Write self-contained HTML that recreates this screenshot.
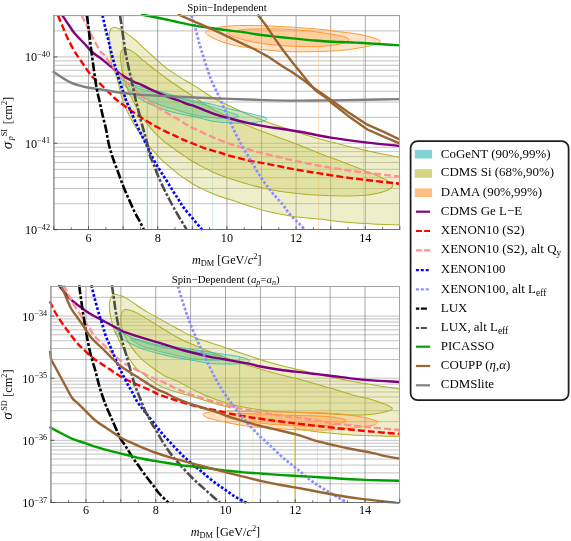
<!DOCTYPE html>
<html><head><meta charset="utf-8"><title>DM limits</title>
<style>html,body{margin:0;padding:0;background:#fff;}body{width:571px;height:541px;overflow:hidden;position:relative;font-family:"Liberation Serif",serif;}</style>
</head><body>
<div style="position:absolute;left:0;top:0;width:571px;height:541px;will-change:transform">
<svg width="571" height="541" viewBox="0 0 571 541" style="position:absolute;left:0;top:0;opacity:0.999">
<defs>
<clipPath id="ct"><rect x="51.9" y="14.1" width="348.2" height="216.6"/></clipPath>
<clipPath id="cb"><rect x="48.9" y="285.1" width="351.2" height="218.6"/></clipPath>
<clipPath id="ctf"><rect x="53.5" y="15.5" width="346.0" height="214.0"/></clipPath>
<clipPath id="cbf"><rect x="50.5" y="286.5" width="349.0" height="216.0"/></clipPath>
</defs>
<g stroke="#737373" stroke-width="0.44" fill="none"><path d="M88.50,15.5 V229.5" stroke-width="0.62"/><path d="M123.10,15.5 V229.5" stroke-width="0.62"/><path d="M157.70,15.5 V229.5" stroke-width="0.62"/><path d="M192.30,15.5 V229.5" stroke-width="0.62"/><path d="M226.90,15.5 V229.5" stroke-width="0.62"/><path d="M261.50,15.5 V229.5" stroke-width="0.62"/><path d="M296.10,15.5 V229.5" stroke-width="0.62"/><path d="M330.70,15.5 V229.5" stroke-width="0.62"/><path d="M365.30,15.5 V229.5" stroke-width="0.62"/><path d="M53.5,203.69 H399.5"/><path d="M53.5,188.48 H399.5"/><path d="M53.5,177.68 H399.5"/><path d="M53.5,169.31 H399.5"/><path d="M53.5,162.47 H399.5"/><path d="M53.5,156.68 H399.5"/><path d="M53.5,151.67 H399.5"/><path d="M53.5,147.25 H399.5"/><path d="M53.5,143.30 H399.5"/><path d="M53.5,117.29 H399.5"/><path d="M53.5,102.08 H399.5"/><path d="M53.5,91.28 H399.5"/><path d="M53.5,82.91 H399.5"/><path d="M53.5,76.07 H399.5"/><path d="M53.5,70.28 H399.5"/><path d="M53.5,65.27 H399.5"/><path d="M53.5,60.85 H399.5"/><path d="M53.5,56.90 H399.5"/><path d="M53.5,30.89 H399.5"/><path d="M53.5,15.68 H399.5"/></g>
<g clip-path="url(#ctf)">
<path d="M147.3,101.0 V229.5" stroke="#78d2d2" stroke-width="1.0" stroke-opacity="1" fill="none"/>
<path d="M212.5,122.0 V229.5" stroke="#78d2d2" stroke-width="0.6" stroke-opacity="0.6" fill="none"/>
<path d="M151.7,150.0 V229.5" stroke="#dcdc96" stroke-width="0.8" stroke-opacity="0.6" fill="none"/>
<path d="M189.3,180.0 V229.5" stroke="#dcdc96" stroke-width="0.8" stroke-opacity="0.6" fill="none"/>
<path d="M318.6,47.0 V229.5" stroke="#ffb878" stroke-width="0.8" stroke-opacity="0.6" fill="none"/>
<path d="M363.6,47.0 V229.5" stroke="#ffb878" stroke-width="0.8" stroke-opacity="0.7" fill="none"/>
<path d="M114.8,27.3 C116.1,27.5 118.3,28.5 120.0,29.3 C121.7,30.1 123.2,31.2 125.0,32.4 C126.8,33.6 129.0,35.1 131.1,36.6 C133.2,38.1 135.2,39.8 137.3,41.6 C139.4,43.5 141.4,45.8 143.4,47.7 C145.4,49.6 147.2,51.1 149.5,53.2 C151.8,55.4 154.8,58.2 157.5,60.6 C160.2,63.0 162.8,65.2 165.5,67.3 C168.2,69.4 171.2,71.5 174.0,73.4 C176.8,75.3 179.7,77.2 182.6,78.9 C185.5,80.6 188.7,82.3 191.2,83.8 C193.7,85.2 193.9,85.3 197.5,87.6 C201.1,89.9 207.1,94.4 212.5,97.5 C217.9,100.6 224.2,103.5 230.0,106.3 C235.8,109.1 241.7,111.7 247.5,114.2 C253.3,116.7 259.1,119.0 265.0,121.2 C270.9,123.4 277.6,125.6 282.6,127.3 C287.6,129.0 288.8,129.5 295.0,131.5 C301.2,133.5 310.6,136.6 319.6,139.1 C328.6,141.6 339.1,144.1 349.0,146.5 C358.9,148.9 370.3,151.5 378.7,153.3 C387.1,155.1 392.7,156.1 399.6,157.4 C406.5,158.7 413.3,155.8 420.0,161.2 C426.7,166.6 440.0,179.3 440.0,190.0 C440.0,200.7 426.7,219.5 420.0,225.3 C413.3,231.1 406.5,225.1 399.6,224.9 C392.7,224.7 387.1,224.7 378.7,224.3 C370.3,223.9 358.9,223.5 349.0,222.6 C339.1,221.7 328.6,220.1 319.6,219.1 C310.6,218.1 301.2,217.6 295.0,216.8 C288.8,216.0 287.6,215.5 282.6,214.5 C277.6,213.5 270.9,212.2 265.0,210.7 C259.1,209.2 253.3,207.3 247.5,205.5 C241.7,203.7 234.6,201.1 230.0,199.6 C225.4,198.1 223.5,197.7 220.0,196.4 C216.5,195.2 211.9,193.4 208.8,192.1 C205.7,190.8 203.9,189.6 201.5,188.4 C199.1,187.2 196.5,186.1 194.1,184.7 C191.7,183.3 189.2,181.4 186.8,179.8 C184.4,178.2 181.9,176.7 179.4,174.9 C176.9,173.1 174.6,170.8 172.1,168.8 C169.6,166.8 167.1,164.9 164.7,162.7 C162.2,160.4 159.8,157.8 157.4,155.3 C155.0,152.8 152.5,150.1 150.5,147.8 C148.5,145.5 147.2,143.9 145.6,141.7 C143.9,139.4 142.2,136.8 140.6,134.3 C138.9,131.9 137.3,129.7 135.7,127.0 C134.1,124.3 132.4,121.5 130.8,118.4 C129.2,115.3 127.3,111.7 125.9,108.6 C124.5,105.5 123.5,103.1 122.4,99.8 C121.4,96.5 120.5,92.3 119.6,88.6 C118.7,84.9 117.7,80.2 116.8,77.4 C115.9,74.6 115.2,73.1 114.4,71.5 C113.7,69.9 112.9,69.7 112.3,67.6 C111.7,65.5 111.2,62.1 110.8,59.0 C110.4,55.9 110.1,52.3 109.8,49.2 C109.5,46.1 109.3,43.1 109.2,40.6 C109.1,38.1 109.0,36.3 109.2,34.5 C109.4,32.7 109.9,30.9 110.4,29.8 C110.9,28.7 111.5,28.3 112.2,27.9 C112.9,27.5 113.5,27.1 114.8,27.3Z" fill="#c8c850" fill-opacity="0.3" stroke="#b0b02a" stroke-width="1.05"/>
<path d="M125.0,48.9 C126.0,48.8 127.5,49.1 128.7,49.5 C129.9,49.9 131.0,50.5 132.4,51.4 C133.8,52.3 135.5,53.5 137.3,55.0 C139.1,56.5 141.4,58.9 143.4,60.6 C145.4,62.4 147.2,63.7 149.5,65.5 C151.8,67.3 154.8,69.6 157.5,71.6 C160.2,73.6 162.8,75.7 165.5,77.7 C168.2,79.7 170.3,81.3 174.0,83.8 C177.7,86.3 183.3,90.0 187.6,92.8 C191.9,95.6 195.8,98.1 200.0,100.8 C204.2,103.5 207.5,106.1 212.5,108.9 C217.5,111.7 224.2,114.9 230.0,117.7 C235.8,120.5 241.7,123.0 247.5,125.5 C253.3,128.0 259.1,130.3 265.0,132.5 C270.9,134.7 277.6,137.1 282.6,138.9 C287.6,140.8 288.8,141.2 295.0,143.6 C301.2,146.0 310.6,149.9 319.6,153.4 C328.6,156.9 340.1,161.0 349.0,164.4 C357.9,167.8 366.4,171.1 372.8,173.8 C379.2,176.5 384.1,178.9 387.5,180.8 C390.9,182.7 393.0,183.5 393.0,185.1 C393.0,186.7 390.9,188.7 387.5,190.2 C384.1,191.7 379.2,193.2 372.8,194.2 C366.4,195.2 357.9,195.8 349.0,196.0 C340.1,196.2 328.6,195.8 319.6,195.3 C310.6,194.8 301.2,193.8 295.0,193.2 C288.8,192.6 287.6,192.6 282.6,191.8 C277.6,191.0 270.9,189.8 265.0,188.5 C259.1,187.2 253.3,185.8 247.5,184.1 C241.7,182.4 234.6,180.1 230.0,178.6 C225.4,177.1 222.7,175.9 220.0,174.9 C217.3,173.9 216.0,173.5 213.7,172.5 C211.4,171.5 208.8,170.0 206.4,168.8 C204.0,167.6 201.4,166.4 199.0,165.1 C196.6,163.8 194.1,162.3 191.7,160.8 C189.2,159.3 186.8,157.5 184.3,155.9 C181.9,154.3 179.4,152.7 177.0,151.0 C174.6,149.3 171.6,146.9 169.6,145.5 C167.6,144.1 167.0,143.8 165.2,142.3 C163.4,140.9 161.1,138.8 159.0,136.8 C156.9,134.9 154.9,132.8 152.9,130.6 C150.9,128.3 148.9,125.9 146.8,123.3 C144.8,120.7 142.3,117.3 140.6,114.7 C138.9,112.1 137.7,109.9 136.4,107.4 C135.1,105.0 134.1,102.9 132.7,100.0 C131.3,97.1 129.4,93.3 128.0,90.0 C126.6,86.7 125.4,83.0 124.5,80.0 C123.6,77.0 123.0,74.6 122.4,71.8 C121.8,69.0 121.3,66.0 121.0,63.4 C120.7,60.8 120.3,57.9 120.3,56.0 C120.3,54.1 120.4,53.3 120.8,52.3 C121.2,51.3 121.7,50.6 122.4,50.0 C123.1,49.4 124.0,49.0 125.0,48.9Z" fill="#c8c850" fill-opacity="0.32" stroke="#b0b02a" stroke-width="1.05"/>
<path d="M119.3,77.8 C120.0,77.9 122.3,80.1 124.6,81.2 C126.9,82.3 129.3,83.4 133.0,84.6 C136.7,85.8 142.3,87.4 146.7,88.6 C151.1,89.8 155.1,90.5 159.3,91.6 C163.5,92.7 167.3,93.7 172.0,95.0 C176.7,96.3 182.9,98.2 187.6,99.4 C192.3,100.6 195.8,101.2 200.0,102.0 C204.2,102.8 207.5,103.2 212.5,104.4 C217.5,105.6 224.4,107.6 230.0,109.0 C235.6,110.4 241.0,111.5 245.8,112.6 C250.6,113.7 255.5,114.8 259.0,115.8 C262.5,116.8 266.3,117.6 266.8,118.5 C267.3,119.4 265.2,120.6 262.0,121.3 C258.8,122.0 252.8,122.6 247.5,122.9 C242.2,123.2 235.8,123.2 230.0,122.9 C224.2,122.6 217.5,122.0 212.5,121.2 C207.5,120.4 203.9,118.9 200.0,118.0 C196.1,117.1 193.5,116.7 188.8,115.7 C184.1,114.7 176.9,113.3 172.0,112.0 C167.1,110.7 163.5,109.4 159.3,107.8 C155.1,106.2 150.4,104.4 146.7,102.6 C143.0,100.8 139.8,98.6 137.2,96.8 C134.6,95.0 133.0,93.4 130.9,91.5 C128.8,89.6 126.2,87.3 124.5,85.5 C122.8,83.7 121.4,81.8 120.5,80.5 C119.6,79.2 118.6,77.7 119.3,77.8Z" fill="#50c087" fill-opacity="0.225" stroke="#2cbcb4" stroke-width="0.85"/>
<path d="M133.6,86.6 C134.2,86.4 136.8,87.9 139.0,88.6 C141.2,89.3 143.3,89.9 146.7,90.7 C150.1,91.5 155.1,92.3 159.3,93.2 C163.5,94.1 167.3,95.0 172.0,96.2 C176.7,97.4 183.8,99.6 187.6,100.6 C191.4,101.6 192.3,101.8 195.0,102.4 C197.7,103.1 199.4,103.3 203.8,104.5 C208.2,105.7 216.4,108.3 221.3,109.8 C226.2,111.3 230.1,112.4 233.0,113.4 C235.9,114.4 238.6,115.2 238.8,115.9 C239.0,116.6 237.0,117.2 234.0,117.6 C231.0,118.0 224.6,118.2 221.0,118.2 C217.4,118.2 216.0,118.0 212.5,117.7 C209.0,117.4 204.2,116.9 200.0,116.2 C195.8,115.5 192.3,114.6 187.6,113.3 C182.9,112.0 176.7,110.0 172.0,108.6 C167.3,107.2 163.5,106.3 159.3,104.7 C155.1,103.1 150.0,100.7 146.7,98.9 C143.4,97.1 141.2,95.3 139.3,93.8 C137.4,92.2 136.1,90.8 135.2,89.6 C134.2,88.4 133.0,86.8 133.6,86.6Z" fill="#50c087" fill-opacity="0.225" stroke="#3cb496" stroke-width="0.7"/>
<path d="M205.8,32.1 C206.2,31.4 207.3,30.5 209.0,29.8 C210.7,29.1 212.9,28.5 215.8,27.9 C218.7,27.3 221.9,26.7 226.3,26.3 C230.7,25.9 236.4,25.6 242.0,25.5 C247.6,25.4 254.5,25.5 260.0,25.6 C265.5,25.7 269.6,26.0 275.0,26.3 C280.4,26.6 286.7,26.9 292.5,27.2 C298.3,27.5 304.1,27.9 310.0,28.4 C315.9,28.9 322.6,29.5 327.6,30.1 C332.6,30.7 335.4,31.3 340.0,31.9 C344.6,32.5 350.2,32.8 355.0,33.6 C359.8,34.4 365.2,35.6 369.0,36.6 C372.8,37.6 375.9,38.6 377.8,39.4 C379.7,40.2 380.7,40.7 380.4,41.5 C380.1,42.3 378.8,43.3 376.0,44.2 C373.2,45.1 368.8,46.2 363.8,47.1 C358.9,48.0 352.1,49.2 346.3,49.9 C340.5,50.6 334.9,50.9 328.8,51.2 C322.8,51.5 316.1,51.6 310.0,51.7 C303.9,51.8 298.3,51.9 292.5,51.7 C286.7,51.6 280.8,51.3 275.0,50.8 C269.2,50.3 263.0,49.6 257.5,48.9 C252.0,48.2 246.3,47.5 242.0,46.8 C237.7,46.1 235.0,45.6 231.5,44.7 C228.0,43.8 224.5,42.8 221.0,41.5 C217.5,40.2 212.9,38.0 210.5,36.8 C208.1,35.6 207.6,35.1 206.8,34.3 C206.0,33.5 205.4,32.9 205.8,32.1Z" fill="#ff9a3c" fill-opacity="0.28" stroke="#ff962d" stroke-width="0.95"/>
<path d="M228.2,33.1 C228.6,32.6 229.6,31.9 231.0,31.5 C232.4,31.1 234.1,30.9 236.8,30.5 C239.5,30.1 243.4,29.5 247.3,29.2 C251.2,28.9 255.4,28.9 260.0,28.9 C264.6,28.8 269.6,28.8 275.0,28.9 C280.4,29.0 286.7,29.2 292.5,29.6 C298.3,30.0 304.1,30.3 310.0,31.0 C315.9,31.7 322.4,32.8 327.6,33.6 C332.8,34.4 337.6,35.1 341.0,35.9 C344.4,36.7 346.7,37.7 348.0,38.4 C349.3,39.1 349.5,39.4 348.9,40.1 C348.3,40.9 347.0,42.1 344.5,42.9 C342.0,43.7 338.1,44.4 334.0,45.0 C329.9,45.6 324.0,46.1 320.0,46.4 C316.0,46.7 314.6,46.6 310.0,46.6 C305.4,46.6 298.3,46.6 292.5,46.3 C286.7,46.0 280.4,45.5 275.0,45.0 C269.6,44.5 263.8,43.7 260.0,43.2 C256.2,42.7 255.5,42.5 252.5,41.9 C249.5,41.3 245.5,40.4 242.0,39.4 C238.5,38.4 233.7,36.6 231.5,35.8 C229.3,34.9 229.4,34.8 228.8,34.3 C228.2,33.8 227.8,33.6 228.2,33.1Z" fill="#ff9a3c" fill-opacity="0.3" stroke="#ff962d" stroke-width="0.95"/>
</g>
<g clip-path="url(#ct)" stroke-linejoin="round">
<path d="M62.3,15.3 C63.5,17.1 67.1,22.7 69.3,25.8 C71.5,28.9 72.6,31.0 75.2,34.1 C77.8,37.2 82.2,41.2 85.0,44.2 C87.8,47.2 89.5,49.7 92.0,52.0 C94.5,54.3 97.5,55.9 100.0,57.8 C102.5,59.7 104.7,61.5 107.0,63.4 C109.3,65.3 111.7,67.1 114.0,69.0 C116.3,70.9 118.7,73.0 121.0,74.6 C123.3,76.2 125.7,77.5 128.0,78.8 C130.3,80.1 132.7,81.2 135.0,82.3 C137.3,83.3 139.7,84.0 142.0,85.1 C144.3,86.1 146.7,87.5 149.0,88.6 C151.3,89.7 153.7,90.7 156.0,91.7 C158.3,92.8 160.7,93.9 163.0,94.9 C165.3,95.9 167.2,96.5 170.0,97.5 C172.8,98.5 177.1,99.9 180.0,101.0 C182.9,102.1 185.1,103.3 187.6,104.2 C190.1,105.1 190.8,104.8 195.0,106.3 C199.2,107.8 206.7,111.3 212.5,113.3 C218.3,115.3 224.2,116.9 230.0,118.5 C235.8,120.1 241.7,121.6 247.5,122.9 C253.3,124.2 259.1,125.4 265.0,126.4 C270.9,127.4 276.8,128.1 282.6,129.0 C288.4,129.9 292.0,130.4 300.0,131.8 C308.0,133.2 319.9,135.8 330.8,137.6 C341.7,139.4 354.0,141.0 365.5,142.4 C377.0,143.8 393.9,145.3 399.6,145.9" fill="none" stroke="#800080" stroke-width="2.4"/>
<path d="M57.9,15.3 C58.6,17.1 60.7,22.0 62.3,25.8 C63.9,29.6 65.5,33.8 67.5,38.0 C69.5,42.2 71.9,46.8 74.5,51.2 C77.1,55.6 80.4,60.1 83.3,64.3 C86.2,68.5 89.2,73.3 92.0,76.5 C94.8,79.7 97.2,80.9 100.0,83.6 C102.8,86.2 106.0,89.7 108.8,92.4 C111.6,95.1 114.0,97.7 116.7,100.0 C119.4,102.3 121.7,103.9 124.7,106.1 C127.7,108.2 131.2,110.7 134.5,112.9 C137.8,115.2 141.0,117.5 144.3,119.6 C147.6,121.7 150.8,123.6 154.1,125.4 C157.4,127.2 160.6,129.1 163.9,130.7 C167.2,132.3 170.7,133.8 173.7,135.2 C176.7,136.6 178.7,137.8 181.9,139.2 C185.1,140.6 189.0,142.0 192.9,143.5 C196.8,145.0 200.9,146.9 205.2,148.4 C209.5,149.9 214.6,151.1 218.7,152.3 C222.8,153.5 225.2,154.5 230.0,155.8 C234.8,157.1 241.7,159.0 247.5,160.3 C253.3,161.6 259.1,162.4 265.0,163.5 C270.9,164.6 277.6,166.0 282.6,167.0 C287.6,168.0 288.8,168.3 295.0,169.4 C301.2,170.5 310.6,172.0 319.6,173.4 C328.6,174.8 339.1,176.6 349.0,177.9 C358.9,179.2 370.3,180.4 378.7,181.4 C387.1,182.4 396.1,183.3 399.6,183.7" fill="none" stroke="#ff0000" stroke-width="2.4" stroke-dasharray="7,3"/>
<path d="M81.5,15.3 C82.5,17.3 85.7,23.4 87.7,27.5 C89.8,31.6 91.6,35.7 93.8,39.8 C96.0,43.9 99.1,49.5 100.8,52.0 C102.5,54.5 102.5,52.9 104.2,55.0 C105.9,57.1 108.9,61.8 111.2,64.8 C113.5,67.8 115.9,70.5 118.2,73.2 C120.5,75.9 122.9,78.5 125.2,80.9 C127.5,83.4 129.6,85.5 132.2,87.9 C134.8,90.4 138.2,93.6 140.6,95.6 C143.0,97.6 144.1,98.2 146.8,100.0 C149.5,101.8 153.3,104.5 156.6,106.6 C159.9,108.7 162.5,110.4 166.4,112.7 C170.3,115.0 176.5,118.4 180.0,120.5 C183.5,122.6 185.1,123.7 187.6,125.1 C190.1,126.5 190.8,127.0 195.0,129.0 C199.2,131.0 206.7,134.7 212.5,137.2 C218.3,139.7 224.2,141.8 230.0,143.8 C235.8,145.8 241.7,147.5 247.5,149.2 C253.3,150.9 259.1,152.4 265.0,153.8 C270.9,155.2 277.6,156.7 282.6,157.9 C287.6,159.1 288.8,159.5 295.0,160.8 C301.2,162.1 310.6,164.2 319.6,165.8 C328.6,167.4 339.1,169.1 349.0,170.5 C358.9,171.9 370.3,173.2 378.7,174.2 C387.1,175.2 396.1,176.2 399.6,176.6" fill="none" stroke="#ff9090" stroke-width="2.4" stroke-dasharray="7,3"/>
<path d="M102.5,15.3 C103.0,17.3 104.2,23.1 105.2,27.5 C106.2,31.9 107.6,36.9 108.7,41.5 C109.8,46.1 110.9,51.1 111.9,55.0 C112.9,58.9 113.8,61.5 114.7,64.8 C115.6,68.1 116.5,71.1 117.5,74.6 C118.5,78.1 119.8,82.3 121.0,85.8 C122.2,89.3 123.7,93.2 124.5,95.6 C125.3,98.0 125.1,97.8 125.9,100.0 C126.8,102.2 128.3,105.5 129.6,108.6 C130.9,111.7 132.5,115.1 133.9,118.4 C135.3,121.7 136.8,125.1 138.2,128.2 C139.6,131.3 141.1,133.9 142.5,136.8 C143.9,139.7 145.6,142.8 146.8,145.4 C148.1,148.0 148.7,149.5 150.0,152.3 C151.3,155.1 153.1,158.8 154.9,162.1 C156.7,165.4 158.9,168.6 161.0,171.9 C163.1,175.2 165.1,178.4 167.2,181.7 C169.2,185.0 171.4,188.4 173.3,191.5 C175.2,194.6 177.0,197.2 178.8,200.0 C180.6,202.8 181.7,204.9 184.0,208.0 C186.3,211.1 190.1,215.4 192.8,218.6 C195.5,221.8 198.3,225.3 200.0,227.3 C201.7,229.3 202.4,230.2 202.9,230.8" fill="none" stroke="#0000ff" stroke-width="2.7" stroke-dasharray="2.65,1.9"/>
<path d="M191.4,15.3 C192.0,17.3 193.8,22.6 195.2,27.5 C196.6,32.5 198.1,39.2 199.8,45.0 C201.5,50.8 203.3,56.7 205.2,62.5 C207.1,68.3 209.1,74.8 211.2,80.0 C213.3,85.2 215.5,89.0 217.8,94.0 C220.1,99.0 222.5,104.5 224.8,109.8 C227.1,115.0 229.2,120.0 231.8,125.5 C234.4,131.0 237.3,137.1 240.5,143.0 C243.7,148.9 247.5,154.9 251.0,160.8 C254.5,166.7 258.0,173.1 261.5,178.3 C265.0,183.6 268.5,187.9 272.0,192.3 C275.5,196.7 279.6,200.8 282.6,204.5 C285.6,208.2 287.3,211.3 290.0,214.5 C292.7,217.7 296.4,220.9 298.9,223.4 C301.4,225.9 303.8,228.6 304.8,229.6" fill="none" stroke="#8c8cff" stroke-width="2.7" stroke-dasharray="2.65,1.9"/>
<path d="M52.6,71.3 C53.9,72.2 57.4,74.6 60.5,76.5 C63.6,78.4 66.9,81.0 71.0,82.7 C75.1,84.5 80.2,85.9 85.0,87.0 C89.8,88.1 95.2,88.5 100.0,89.3 C104.8,90.1 109.3,91.0 114.0,91.7 C118.7,92.4 123.3,93.0 128.0,93.5 C132.7,94.0 137.3,94.6 142.0,94.9 C146.7,95.2 149.7,95.3 156.0,95.6 C162.3,95.9 173.5,96.5 180.0,96.8 C186.5,97.1 186.7,97.2 195.0,97.5 C203.3,97.8 218.3,98.5 230.0,98.9 C241.7,99.3 253.3,99.8 265.0,100.1 C276.7,100.4 289.0,100.5 300.0,100.6 C311.0,100.6 320.0,100.5 330.8,100.4 C341.6,100.3 353.5,100.0 365.0,99.8 C376.5,99.6 393.8,99.2 399.6,99.1" fill="none" stroke="#808080" stroke-width="2.4"/>
<path d="M86.8,15.3 C87.1,17.3 87.9,22.6 88.5,27.5 C89.1,32.5 89.9,39.2 90.6,45.0 C91.3,50.8 92.1,56.7 92.9,62.5 C93.7,68.3 94.5,74.7 95.3,80.0 C96.1,85.3 97.1,90.8 97.8,94.1 C98.5,97.4 98.5,96.3 99.3,100.0 C100.1,103.7 101.6,111.0 102.8,116.0 C104.0,121.0 105.2,125.2 106.2,130.0 C107.2,134.8 107.8,140.2 109.0,145.0 C110.2,149.8 111.6,154.3 113.2,159.0 C114.8,163.7 116.7,168.3 118.4,173.0 C120.1,177.7 121.8,182.6 123.6,187.0 C125.3,191.4 127.1,195.2 128.9,199.3 C130.7,203.4 132.6,207.7 134.4,211.5 C136.2,215.3 138.4,219.0 140.0,222.0 C141.6,225.0 143.2,228.3 143.8,229.6" fill="none" stroke="#000000" stroke-width="2.6" stroke-dasharray="9,2.0,2.8,2.0"/>
<path d="M120.0,15.3 C120.3,17.3 121.1,22.6 121.8,27.5 C122.5,32.5 123.7,40.4 124.4,45.0 C125.1,49.6 125.3,51.7 125.9,55.0 C126.5,58.3 127.2,61.1 128.0,64.8 C128.8,68.5 129.9,73.2 130.8,77.4 C131.7,81.6 132.8,86.2 133.6,90.0 C134.4,93.8 134.9,96.7 135.7,100.0 C136.5,103.3 137.4,106.5 138.2,109.8 C139.0,113.1 139.7,116.1 140.6,119.6 C141.5,123.1 142.7,126.9 143.7,130.6 C144.7,134.3 145.8,137.5 146.8,141.7 C147.9,145.9 148.8,152.1 150.0,155.9 C151.2,159.7 152.5,161.4 153.7,164.5 C154.9,167.6 156.0,170.8 157.4,174.3 C158.8,177.8 160.9,182.3 162.3,185.4 C163.7,188.5 164.7,190.3 165.9,192.7 C167.1,195.1 168.3,197.5 169.6,200.0 C170.9,202.5 171.8,204.2 173.6,207.5 C175.4,210.8 178.4,215.8 180.6,219.5 C182.8,223.2 185.7,227.9 186.7,229.6" fill="none" stroke="#4d4d4d" stroke-width="2.6" stroke-dasharray="9,2.0,2.8,2.0"/>
<path d="M141.0,14.6 C141.7,14.7 141.4,14.6 145.0,15.3 C148.6,16.0 156.7,17.6 162.5,18.8 C168.3,20.0 174.2,21.4 180.0,22.6 C185.8,23.8 191.7,25.1 197.5,26.1 C203.3,27.1 209.2,27.8 215.0,28.6 C220.8,29.4 227.6,30.3 232.6,30.9 C237.6,31.5 240.8,31.8 245.0,32.4 C249.2,33.0 252.5,33.8 257.5,34.5 C262.5,35.2 269.2,36.0 275.0,36.6 C280.8,37.2 286.7,37.8 292.5,38.4 C298.3,39.0 304.1,39.6 310.0,40.1 C315.9,40.6 320.1,41.1 327.6,41.5 C335.1,41.9 347.5,42.2 355.0,42.6 C362.5,43.0 366.7,43.2 372.5,43.6 C378.3,44.0 385.5,44.4 390.0,44.7 C394.5,45.0 398.1,45.3 399.7,45.4" fill="none" stroke="#00a000" stroke-width="2.4"/>
<path d="M257.5,14.4 L266.3,25.8 L275.0,38.9 L283.8,51.2 L292.5,62.5 L298.4,69.7 L308.2,82.0 L315.6,90.6 L329.0,99.8 L330.8,102.2 L348.2,115.9 L367.4,129.5 L384.8,137.2 L399.6,143.3" fill="none" stroke="#996633" stroke-width="2.4"/>
<path d="M177.7,14.2 L191.0,20.1 L205.0,26.1 L219.0,32.4 L233.0,39.1 L245.0,44.8 L254.0,49.0 L268.0,56.6 L282.0,66.0 L292.3,72.2 L304.5,80.7 L313.1,87.5 L322.9,94.2 L330.8,99.8 L348.2,112.2 L367.4,124.7 L384.8,132.4 L399.6,139.5" fill="none" stroke="#996633" stroke-width="2.4"/>
</g>
<g fill="none"><path d="M53.0,15.5 H400.05" stroke="#a2a2a2" stroke-width="1"/><path d="M399.5,15.0 V230.0" stroke="#a2a2a2" stroke-width="1"/><path d="M53.9,15.0 V230.0" stroke="#949494" stroke-width="1.5"/><path d="M53.2,229.5 H400.05" stroke="#6c6c6c" stroke-width="1.1"/></g><g stroke="#4a4a4a" stroke-width="0.85" fill="none"><path d="M53.90,229.5 v-3.4"/><path d="M71.20,229.5 v-2.2"/><path d="M88.50,229.5 v-3.4"/><path d="M105.80,229.5 v-2.2"/><path d="M123.10,229.5 v-3.4"/><path d="M140.40,229.5 v-2.2"/><path d="M157.70,229.5 v-3.4"/><path d="M175.00,229.5 v-2.2"/><path d="M192.30,229.5 v-3.4"/><path d="M209.60,229.5 v-2.2"/><path d="M226.90,229.5 v-3.4"/><path d="M244.20,229.5 v-2.2"/><path d="M261.50,229.5 v-3.4"/><path d="M278.80,229.5 v-2.2"/><path d="M296.10,229.5 v-3.4"/><path d="M313.40,229.5 v-2.2"/><path d="M330.70,229.5 v-3.4"/><path d="M348.00,229.5 v-2.2"/><path d="M365.30,229.5 v-3.4"/><path d="M382.60,229.5 v-2.2"/><path d="M399.90,229.5 v-3.4"/><path d="M53.5,229.70 h4"/><path d="M53.5,143.30 h4"/><path d="M53.5,56.90 h4"/></g>
<g stroke="#737373" stroke-width="0.44" fill="none"><path d="M85.98,286.5 V502.5" stroke-width="0.62"/><path d="M120.86,286.5 V502.5" stroke-width="0.62"/><path d="M155.74,286.5 V502.5" stroke-width="0.62"/><path d="M190.62,286.5 V502.5" stroke-width="0.62"/><path d="M225.50,286.5 V502.5" stroke-width="0.62"/><path d="M260.38,286.5 V502.5" stroke-width="0.62"/><path d="M295.26,286.5 V502.5" stroke-width="0.62"/><path d="M330.14,286.5 V502.5" stroke-width="0.62"/><path d="M365.02,286.5 V502.5" stroke-width="0.62"/><path d="M50.5,502.50 H399.5"/><path d="M50.5,483.79 H399.5"/><path d="M50.5,472.85 H399.5"/><path d="M50.5,465.08 H399.5"/><path d="M50.5,459.06 H399.5"/><path d="M50.5,454.14 H399.5"/><path d="M50.5,449.98 H399.5"/><path d="M50.5,446.37 H399.5"/><path d="M50.5,443.19 H399.5"/><path d="M50.5,440.35 H399.5"/><path d="M50.5,421.64 H399.5"/><path d="M50.5,410.70 H399.5"/><path d="M50.5,402.93 H399.5"/><path d="M50.5,396.91 H399.5"/><path d="M50.5,391.99 H399.5"/><path d="M50.5,387.83 H399.5"/><path d="M50.5,384.22 H399.5"/><path d="M50.5,381.04 H399.5"/><path d="M50.5,378.20 H399.5"/><path d="M50.5,359.49 H399.5"/><path d="M50.5,348.55 H399.5"/><path d="M50.5,340.78 H399.5"/><path d="M50.5,334.76 H399.5"/><path d="M50.5,329.84 H399.5"/><path d="M50.5,325.68 H399.5"/><path d="M50.5,322.07 H399.5"/><path d="M50.5,318.89 H399.5"/><path d="M50.5,316.05 H399.5"/><path d="M50.5,297.34 H399.5"/></g>
<g clip-path="url(#cbf)">
<path d="M157.5,353.0 V502.5" stroke="#78d2c8" stroke-width="0.6" stroke-opacity="0.4" fill="none"/>
<path d="M239.7,357.0 V502.5" stroke="#5cc8b4" stroke-width="1.0" stroke-opacity="1" fill="none"/>
<path d="M252.8,408.0 V502.5" stroke="#dcdc96" stroke-width="0.8" stroke-opacity="0.6" fill="none"/>
<path d="M294.7,412.0 V502.5" stroke="#d2d264" stroke-width="0.9" stroke-opacity="0.9" fill="none"/>
<path d="M317.5,430.0 V502.5" stroke="#ffb878" stroke-width="0.8" stroke-opacity="0.6" fill="none"/>
<path d="M341.3,429.0 V502.5" stroke="#ffb878" stroke-width="0.8" stroke-opacity="0.7" fill="none"/>
<path d="M115.4,294.4 C117.3,294.5 120.5,295.4 123.3,296.6 C126.1,297.9 129.1,300.0 132.0,301.9 C134.9,303.8 138.1,306.2 140.8,308.0 C143.5,309.8 144.7,310.5 148.0,312.4 C151.3,314.3 155.5,316.6 160.5,319.4 C165.5,322.2 172.2,325.9 178.0,329.0 C183.8,332.1 188.9,335.2 195.5,337.8 C202.1,340.4 210.9,342.7 217.5,344.9 C224.1,347.1 229.2,349.0 235.0,351.0 C240.8,353.0 246.7,355.2 252.5,357.1 C258.3,359.0 264.1,360.7 270.0,362.4 C275.9,364.1 282.6,365.8 287.6,367.1 C292.6,368.4 295.6,368.9 300.0,370.0 C304.4,371.1 308.7,372.4 314.3,373.7 C319.9,375.0 327.1,376.3 333.5,377.6 C339.9,378.9 346.4,380.2 352.8,381.4 C359.2,382.6 364.2,383.4 372.0,384.7 C379.8,386.0 391.6,387.8 399.6,389.1 C407.6,390.4 413.3,388.0 420.0,392.3 C426.7,396.6 440.0,407.6 440.0,415.0 C440.0,422.4 426.7,433.0 420.0,436.6 C413.3,440.2 407.6,436.5 399.6,436.4 C391.6,436.3 379.8,436.0 372.0,435.8 C364.2,435.6 359.2,435.5 352.8,435.1 C346.4,434.7 339.9,434.1 333.5,433.5 C327.1,432.9 320.7,432.4 314.3,431.6 C307.9,430.8 300.7,429.8 295.0,428.7 C289.3,427.6 285.5,426.4 280.0,425.0 C274.5,423.6 268.2,421.9 262.0,420.2 C255.8,418.4 248.2,416.6 243.0,414.5 C237.8,412.4 235.6,409.8 230.6,407.9 C225.6,406.0 218.8,404.8 213.0,403.0 C207.2,401.2 201.3,399.2 195.5,397.4 C189.7,395.6 183.1,393.9 178.0,392.4 C172.9,390.9 168.2,389.4 165.0,388.2 C161.8,387.0 161.0,386.6 158.7,385.3 C156.4,384.0 153.8,382.1 151.4,380.4 C149.0,378.6 146.4,376.8 144.0,374.8 C141.6,372.9 138.7,370.7 136.7,368.7 C134.7,366.7 133.3,364.8 131.8,362.6 C130.3,360.5 128.9,358.2 127.5,355.8 C126.1,353.4 124.5,350.9 123.2,348.5 C121.9,346.1 120.6,343.4 119.5,341.1 C118.4,338.9 117.3,336.7 116.5,335.0 C115.7,333.3 115.4,333.6 114.5,330.8 C113.6,328.1 111.9,322.6 111.0,318.5 C110.1,314.4 109.4,309.5 109.3,306.3 C109.2,303.1 109.8,301.0 110.2,299.3 C110.7,297.6 111.1,296.8 112.0,296.0 C112.9,295.2 113.5,294.3 115.4,294.4Z" fill="#c8c850" fill-opacity="0.30" stroke="none"/>
<path d="M230.6,407.9 C227.7,407.1 218.8,404.8 213.0,403.0 C207.2,401.2 201.3,399.2 195.5,397.4 C189.7,395.6 183.1,393.9 178.0,392.4 C172.9,390.9 168.2,389.4 165.0,388.2 C161.8,387.0 161.0,386.6 158.7,385.3 C156.4,384.0 153.8,382.1 151.4,380.4 C149.0,378.6 146.4,376.8 144.0,374.8 C141.6,372.9 138.7,370.7 136.7,368.7 C134.7,366.7 133.3,364.8 131.8,362.6 C130.3,360.5 128.9,358.2 127.5,355.8 C126.1,353.4 124.5,350.9 123.2,348.5 C121.9,346.1 120.6,343.4 119.5,341.1 C118.4,338.9 117.3,336.7 116.5,335.0 C115.7,333.3 115.4,333.6 114.5,330.8 C113.6,328.1 111.9,322.6 111.0,318.5 C110.1,314.4 109.4,309.5 109.3,306.3 C109.2,303.1 109.8,301.0 110.2,299.3 C110.7,297.6 111.1,296.8 112.0,296.0 C112.9,295.2 113.5,294.3 115.4,294.4 C117.3,294.5 120.5,295.4 123.3,296.6 C126.1,297.9 129.1,300.0 132.0,301.9 C134.9,303.8 138.1,306.2 140.8,308.0 C143.5,309.8 144.7,310.5 148.0,312.4 C151.3,314.3 155.5,316.6 160.5,319.4 C165.5,322.2 172.2,325.9 178.0,329.0 C183.8,332.1 188.9,335.2 195.5,337.8 C202.1,340.4 210.9,342.7 217.5,344.9 C224.1,347.1 229.2,349.0 235.0,351.0 C240.8,353.0 246.7,355.2 252.5,357.1 C258.3,359.0 264.1,360.7 270.0,362.4 C275.9,364.1 282.6,365.8 287.6,367.1 C292.6,368.4 295.6,368.9 300.0,370.0 C304.4,371.1 308.7,372.4 314.3,373.7 C319.9,375.0 327.1,376.3 333.5,377.6 C339.9,378.9 346.4,380.2 352.8,381.4 C359.2,382.6 364.2,383.4 372.0,384.7 C379.8,386.0 391.6,387.8 399.6,389.1 C407.6,390.4 413.3,388.0 420.0,392.3 C426.7,396.6 440.0,407.6 440.0,415.0 C440.0,422.4 426.7,433.0 420.0,436.6 C413.3,440.2 407.6,436.5 399.6,436.4 C391.6,436.3 379.8,436.0 372.0,435.8 C364.2,435.6 359.2,435.5 352.8,435.1 C346.4,434.7 339.9,434.1 333.5,433.5 C327.1,432.9 320.7,432.4 314.3,431.6 C307.9,430.8 298.2,429.2 295.0,428.7" fill="none" stroke="#b0b02a" stroke-width="1.05"/>
<path d="M126.8,309.4 C128.8,309.7 132.1,310.7 135.6,312.4 C139.1,314.1 143.8,316.9 148.0,319.4 C152.2,321.9 155.5,324.2 160.5,327.3 C165.5,330.4 172.2,334.7 178.0,337.8 C183.8,340.9 188.9,342.9 195.5,345.7 C202.1,348.5 210.9,351.9 217.5,354.5 C224.1,357.1 229.2,359.1 235.0,361.2 C240.8,363.2 246.7,365.0 252.5,366.8 C258.3,368.6 264.1,370.4 270.0,372.0 C275.9,373.6 282.6,375.2 287.6,376.4 C292.6,377.6 295.6,378.2 300.0,379.4 C304.4,380.6 308.7,381.8 314.3,383.4 C319.9,385.0 327.1,387.2 333.5,389.1 C339.9,391.0 346.4,393.1 352.8,394.9 C359.2,396.7 366.5,398.1 372.0,399.7 C377.5,401.3 382.2,403.1 385.6,404.5 C389.0,405.9 392.0,407.3 392.3,408.4 C392.6,409.5 390.9,410.3 387.5,411.3 C384.1,412.3 377.8,413.6 372.0,414.2 C366.2,414.8 359.2,415.1 352.8,415.1 C346.4,415.1 339.9,414.5 333.5,414.2 C327.1,413.9 320.7,413.5 314.3,413.2 C307.9,412.9 302.4,412.7 295.0,412.3 C287.6,411.9 277.1,411.5 270.0,410.9 C262.9,410.3 258.3,409.7 252.5,408.8 C246.7,407.9 240.8,406.8 235.0,405.3 C229.2,403.8 223.3,402.1 217.5,400.0 C211.7,397.9 206.6,396.1 200.0,393.0 C193.4,389.9 183.8,384.4 178.0,381.6 C172.2,378.8 167.8,377.4 165.0,376.1 C162.2,374.8 163.1,374.8 161.2,373.6 C159.3,372.4 156.2,370.4 153.8,368.7 C151.4,367.0 148.9,365.2 146.5,363.2 C144.1,361.2 141.3,358.9 139.1,356.5 C136.8,354.1 134.8,351.6 133.0,349.1 C131.2,346.6 129.5,344.1 128.1,341.7 C126.7,339.3 125.4,336.9 124.4,335.0 C123.5,333.1 123.0,332.4 122.4,330.0 C121.8,327.6 120.8,323.1 120.7,320.3 C120.6,317.5 121.1,315.0 121.6,313.3 C122.1,311.6 122.8,311.0 123.7,310.4 C124.6,309.8 124.8,309.1 126.8,309.4Z" fill="#c8c850" fill-opacity="0.32" stroke="#b0b02a" stroke-width="1.05"/>
<path d="M115.4,331.7 C115.5,330.8 117.6,330.7 120.0,331.5 C122.4,332.3 126.2,335.0 130.0,336.6 C133.8,338.2 137.9,339.5 143.0,341.0 C148.1,342.5 154.7,344.4 160.5,345.5 C166.3,346.6 172.2,346.6 178.0,347.4 C183.8,348.1 189.7,349.1 195.5,350.0 C201.3,350.9 207.2,351.8 213.0,352.7 C218.8,353.6 225.6,354.5 230.6,355.3 C235.6,356.1 239.8,356.7 243.0,357.6 C246.2,358.5 249.5,359.7 249.6,360.6 C249.7,361.6 247.7,362.7 243.8,363.3 C239.9,363.9 232.1,364.1 226.3,364.1 C220.5,364.1 213.9,363.9 208.8,363.3 C203.7,362.8 200.6,361.7 195.5,360.8 C190.4,359.9 183.1,358.8 178.0,357.9 C172.9,357.0 169.4,356.2 165.0,355.2 C160.6,354.1 155.3,352.7 151.4,351.6 C147.5,350.5 144.9,349.7 141.6,348.5 C138.3,347.3 134.5,345.4 131.8,344.2 C129.1,343.0 127.6,342.3 125.6,341.1 C123.5,339.9 121.2,338.4 119.5,336.8 C117.8,335.2 115.3,332.6 115.4,331.7Z" fill="#50c087" fill-opacity="0.225" stroke="#2cbcb4" stroke-width="0.85"/>
<path d="M130.5,338.4 C130.7,338.1 132.1,338.6 135.0,339.5 C137.9,340.4 143.0,342.2 148.0,343.5 C153.0,344.8 158.8,346.4 165.0,347.5 C171.2,348.6 178.3,349.2 185.0,350.2 C191.7,351.1 199.2,352.2 205.0,353.2 C210.8,354.2 216.4,355.2 220.0,356.0 C223.6,356.8 226.1,357.3 226.3,358.0 C226.5,358.7 224.6,359.7 221.0,360.0 C217.4,360.3 210.2,360.3 205.0,360.0 C199.8,359.7 194.5,358.9 190.0,358.2 C185.5,357.5 182.2,356.7 178.0,355.8 C173.8,354.9 169.4,353.9 165.0,352.8 C160.6,351.7 155.3,350.2 151.4,349.1 C147.5,348.0 144.5,347.3 141.6,346.0 C138.7,344.7 135.8,342.8 134.0,341.5 C132.2,340.2 130.3,338.7 130.5,338.4Z" fill="#50c087" fill-opacity="0.225" stroke="#3cb496" stroke-width="0.7"/>
<path d="M203.1,414.8 C203.1,414.1 204.1,413.4 206.0,412.8 C207.9,412.2 210.3,411.7 214.3,411.4 C218.3,411.1 225.1,411.2 230.0,411.2 C234.9,411.2 238.6,411.6 243.8,411.6 C249.0,411.6 255.5,411.3 261.3,411.4 C267.1,411.5 271.6,411.9 278.8,412.0 C286.0,412.1 297.1,412.2 304.6,412.3 C312.1,412.4 317.5,412.5 323.9,412.8 C330.3,413.1 336.8,413.5 343.2,414.2 C349.6,414.9 357.4,416.2 362.4,417.1 C367.4,418.0 370.4,419.0 373.0,419.8 C375.6,420.6 378.1,421.0 377.9,421.9 C377.7,422.8 376.2,424.4 372.0,425.4 C367.8,426.4 359.2,427.4 352.8,428.1 C346.4,428.8 339.9,429.4 333.5,429.7 C327.1,430.0 320.7,430.1 314.3,430.1 C307.9,430.1 302.1,430.0 295.0,429.7 C287.9,429.4 279.0,428.6 272.0,428.1 C265.0,427.6 259.2,427.5 252.8,426.8 C246.4,426.1 239.9,425.1 233.5,423.9 C227.1,422.7 218.9,420.8 214.3,419.7 C209.7,418.6 207.9,417.8 206.0,417.0 C204.1,416.2 203.1,415.5 203.1,414.8Z" fill="#ff9a3c" fill-opacity="0.3" stroke="#ff962d" stroke-width="0.95"/>
<path d="M225.3,416.7 C225.5,416.1 227.1,414.9 230.0,414.4 C232.9,413.9 237.8,413.7 243.0,413.6 C248.2,413.5 255.3,413.8 261.3,414.0 C267.3,414.2 273.2,414.6 278.8,414.8 C284.4,415.1 289.1,415.3 295.0,415.5 C300.9,415.7 307.9,415.5 314.3,415.8 C320.7,416.1 328.9,416.7 333.5,417.2 C338.1,417.7 339.9,418.2 342.0,418.8 C344.1,419.4 346.6,419.8 346.1,420.6 C345.7,421.5 343.0,423.0 339.3,423.9 C335.6,424.8 329.7,425.4 323.9,425.8 C318.1,426.2 310.0,426.3 304.6,426.2 C299.2,426.1 296.7,425.7 291.3,425.4 C285.9,425.1 278.4,424.9 272.0,424.3 C265.6,423.7 258.5,422.8 252.8,422.0 C247.1,421.2 242.0,420.4 238.0,419.8 C234.0,419.2 231.1,418.7 229.0,418.2 C226.9,417.7 225.1,417.3 225.3,416.7Z" fill="#ff9a3c" fill-opacity="0.36" stroke="#ff962d" stroke-width="0.95"/>
</g>
<g clip-path="url(#cb)" stroke-linejoin="round">
<path d="M58.5,285.3 C59.6,286.6 63.0,290.5 65.2,293.0 C67.4,295.5 68.6,297.5 71.9,300.4 C75.2,303.3 81.2,307.6 84.8,310.2 C88.4,312.8 90.1,313.8 93.5,315.7 C96.9,317.6 101.5,319.8 105.0,321.7 C108.5,323.6 111.5,325.3 114.5,326.9 C117.5,328.5 121.5,330.6 123.2,331.5 C125.0,332.4 122.2,331.3 125.0,332.2 C127.8,333.1 134.0,335.2 140.0,337.1 C146.0,339.0 154.3,341.4 161.0,343.4 C167.7,345.4 174.5,347.7 180.0,349.3 C185.5,350.9 189.3,351.8 194.0,353.0 C198.7,354.2 202.8,355.2 208.0,356.3 C213.2,357.4 220.1,358.5 225.5,359.5 C230.9,360.5 236.1,361.4 240.2,362.1 C244.3,362.8 246.6,363.2 250.0,363.9 C253.4,364.6 255.8,365.6 260.5,366.5 C265.2,367.4 272.2,368.6 278.0,369.5 C283.8,370.4 289.7,370.9 295.5,371.6 C301.3,372.3 307.2,373.0 313.0,373.7 C318.8,374.4 323.4,374.9 330.0,375.7 C336.6,376.5 345.8,377.8 352.8,378.6 C359.8,379.4 364.2,379.8 372.0,380.4 C379.8,381.0 395.0,381.7 399.6,382.0" fill="none" stroke="#800080" stroke-width="2.4"/>
<path d="M49.8,301.3 C49.9,301.6 49.5,300.9 50.5,302.8 C51.5,304.8 53.5,309.4 55.6,313.0 C57.7,316.6 60.5,320.8 62.9,324.3 C65.3,327.8 68.0,331.2 70.2,334.2 C72.5,337.2 74.6,340.1 76.4,342.2 C78.2,344.3 79.0,345.0 81.0,347.0 C83.0,349.0 86.0,351.9 88.3,354.0 C90.6,356.1 92.7,357.8 95.0,359.5 C97.3,361.2 100.0,362.8 102.4,364.4 C104.9,366.0 107.2,367.7 109.7,369.3 C112.2,370.9 114.6,372.7 117.1,374.2 C119.5,375.7 122.0,377.2 124.4,378.5 C126.9,379.8 128.9,380.9 131.8,382.2 C134.7,383.5 138.3,385.1 141.6,386.5 C144.9,387.9 148.3,389.4 151.4,390.8 C154.5,392.2 155.6,393.3 160.0,395.0 C164.4,396.7 172.1,399.0 178.0,400.9 C183.9,402.8 189.7,404.7 195.5,406.2 C201.3,407.7 206.7,408.3 213.0,409.7 C219.3,411.1 226.9,413.0 233.5,414.3 C240.1,415.6 246.4,416.7 252.8,417.7 C259.2,418.7 265.6,419.5 272.0,420.4 C278.4,421.3 285.8,422.2 291.3,422.9 C296.8,423.6 298.0,423.7 305.0,424.5 C312.0,425.3 322.3,426.6 333.5,427.8 C344.7,429.0 361.0,430.6 372.0,431.6 C383.0,432.6 395.0,433.5 399.6,433.9" fill="none" stroke="#ff0000" stroke-width="2.4" stroke-dasharray="7,3"/>
<path d="M63.8,285.3 C64.7,287.1 67.0,292.0 69.0,295.8 C71.0,299.6 73.7,304.2 76.0,308.0 C78.3,311.8 80.7,315.0 83.0,318.5 C85.3,322.0 88.0,325.9 90.0,329.0 C92.0,332.1 92.9,334.4 95.0,336.8 C97.1,339.2 100.0,341.2 102.4,343.6 C104.9,346.0 107.2,348.5 109.7,350.9 C112.2,353.2 114.6,355.6 117.1,357.7 C119.5,359.8 122.0,361.6 124.4,363.2 C126.9,364.8 128.9,366.0 131.8,367.5 C134.7,369.0 138.3,370.8 141.6,372.4 C144.9,374.0 147.5,375.6 151.4,377.3 C155.3,379.0 160.6,380.8 165.0,382.8 C169.4,384.8 172.9,387.3 178.0,389.5 C183.1,391.7 189.4,394.0 195.5,396.0 C201.6,398.0 208.0,399.9 214.3,401.7 C220.6,403.5 227.1,405.3 233.5,406.9 C239.9,408.4 246.4,409.8 252.8,411.0 C259.2,412.2 265.6,413.3 272.0,414.3 C278.4,415.3 285.8,416.3 291.3,417.0 C296.8,417.7 298.0,417.7 305.0,418.7 C312.0,419.7 325.5,422.1 333.5,423.2 C341.5,424.3 346.4,424.8 352.8,425.5 C359.2,426.2 364.2,426.8 372.0,427.5 C379.8,428.2 395.0,429.6 399.6,430.0" fill="none" stroke="#ff9090" stroke-width="2.4" stroke-dasharray="7,3"/>
<path d="M91.4,285.3 C91.9,287.3 93.2,292.8 94.4,297.5 C95.6,302.2 97.3,308.3 98.8,313.3 C100.3,318.3 102.1,323.7 103.2,327.3 C104.3,330.9 104.5,332.5 105.4,335.0 C106.3,337.5 107.4,339.8 108.5,342.4 C109.6,345.0 111.0,348.0 112.2,350.9 C113.4,353.8 114.6,356.6 115.8,359.5 C117.0,362.4 118.3,365.4 119.5,368.1 C120.7,370.8 121.9,372.9 123.2,375.5 C124.5,378.1 126.1,381.4 127.5,384.0 C128.9,386.6 130.2,388.4 131.8,391.4 C133.4,394.4 135.4,398.8 137.3,401.8 C139.2,404.8 141.2,407.0 143.0,409.3 C144.8,411.6 145.6,412.6 147.9,415.5 C150.2,418.4 154.2,423.6 156.8,426.8 C159.4,430.1 161.1,432.4 163.4,435.0 C165.7,437.6 168.1,440.1 170.4,442.6 C172.7,445.1 175.1,447.6 177.4,450.0 C179.7,452.4 182.1,455.0 184.4,457.2 C186.8,459.4 188.9,461.2 191.5,463.4 C194.1,465.6 197.8,468.4 200.0,470.3 C202.2,472.2 202.6,472.6 205.0,474.6 C207.4,476.6 211.4,480.0 214.6,482.4 C217.8,484.8 221.1,486.9 224.3,489.1 C227.5,491.4 230.7,493.9 233.9,495.9 C237.1,497.9 241.1,500.0 243.5,501.3 C245.9,502.6 247.6,503.2 248.4,503.6" fill="none" stroke="#0000ff" stroke-width="2.7" stroke-dasharray="2.65,1.9"/>
<path d="M178.0,286.1 C178.7,288.6 180.8,295.9 182.4,301.0 C184.0,306.1 185.8,311.6 187.7,316.8 C189.6,322.1 191.6,327.2 193.8,332.5 C196.0,337.8 198.6,343.5 200.8,348.3 C203.0,353.1 204.5,356.4 207.0,361.5 C209.5,366.6 213.0,373.8 215.8,379.0 C218.7,384.2 221.0,388.3 224.1,393.0 C227.2,397.7 231.1,402.9 234.2,407.0 C237.3,411.1 240.5,414.8 242.8,417.6 C245.1,420.4 245.3,420.9 248.0,423.9 C250.7,426.9 255.4,431.8 259.2,435.5 C262.9,439.2 266.2,442.0 270.5,446.0 C274.8,450.0 280.4,455.5 284.8,459.3 C289.2,463.1 292.9,465.5 297.0,468.9 C301.1,472.3 305.9,476.6 309.6,479.5 C313.3,482.4 316.1,484.1 319.3,486.2 C322.5,488.3 325.7,490.1 328.9,492.0 C332.1,493.9 335.6,496.1 338.5,497.8 C341.4,499.5 344.9,501.3 346.2,502.0" fill="none" stroke="#8c8cff" stroke-width="2.7" stroke-dasharray="2.65,1.9"/>
<path d="M79.2,285.3 C79.5,287.9 80.5,295.5 81.3,301.0 C82.1,306.5 83.0,312.9 83.9,318.5 C84.8,324.1 85.5,328.8 86.5,334.3 C87.5,339.9 89.0,347.2 90.0,351.8 C91.0,356.4 91.9,359.1 92.7,362.0 C93.5,364.9 94.2,366.4 95.0,369.3 C95.8,372.2 96.6,375.6 97.5,379.1 C98.4,382.6 99.1,385.8 100.5,390.2 C101.9,394.6 103.9,400.4 105.8,405.3 C107.7,410.2 109.9,414.6 111.9,419.3 C113.9,424.0 116.7,430.2 118.0,433.3 C119.3,436.4 118.7,435.7 120.0,437.8 C121.3,439.9 123.5,442.9 125.6,446.2 C127.7,449.5 130.3,453.9 132.6,457.4 C134.9,460.9 137.3,463.9 139.6,467.2 C141.9,470.5 144.4,474.0 146.6,477.0 C148.8,480.0 150.7,482.2 152.9,485.0 C155.1,487.8 157.1,491.1 159.7,494.0 C162.3,496.9 166.9,501.2 168.4,502.6" fill="none" stroke="#000000" stroke-width="2.6" stroke-dasharray="9,2.0,2.8,2.0"/>
<path d="M111.9,285.3 C112.2,287.3 113.0,292.6 113.7,297.5 C114.4,302.4 115.3,309.2 116.3,315.0 C117.3,320.8 119.1,329.2 119.8,332.5 C120.5,335.8 120.2,333.4 120.7,335.0 C121.2,336.6 121.9,339.8 122.6,342.4 C123.3,345.0 124.2,348.0 125.0,350.9 C125.8,353.8 126.7,356.6 127.5,359.5 C128.3,362.4 129.1,365.2 129.9,368.1 C130.7,371.0 131.6,373.8 132.4,376.7 C133.2,379.6 134.0,382.8 134.8,385.3 C135.7,387.9 136.7,389.9 137.5,392.0 C138.3,394.1 138.5,394.3 139.8,397.6 C141.1,400.9 144.1,408.7 145.4,411.6 C146.7,414.5 146.2,412.8 147.4,415.0 C148.6,417.2 151.0,422.2 152.4,424.6 C153.8,427.1 154.6,427.7 155.8,429.7 C157.0,431.7 158.2,434.1 159.6,436.5 C161.0,438.9 162.2,441.3 164.2,444.4 C166.2,447.5 169.4,452.1 171.5,454.9 C173.6,457.7 174.7,458.8 176.8,461.2 C178.9,463.6 181.8,466.7 184.2,469.3 C186.6,471.9 189.0,474.6 191.4,477.0 C193.8,479.4 196.5,481.9 198.8,484.0 C201.1,486.1 202.8,487.5 205.0,489.5 C207.2,491.5 209.7,493.7 212.2,495.9 C214.7,498.1 218.7,501.5 220.0,502.6" fill="none" stroke="#4d4d4d" stroke-width="2.6" stroke-dasharray="9,2.0,2.8,2.0"/>
<path d="M49.4,427.0 C49.6,427.1 48.7,426.6 50.7,427.7 C52.7,428.8 57.6,431.4 61.2,433.3 C64.8,435.2 68.4,437.3 72.4,438.9 C76.4,440.5 80.8,441.7 85.0,443.1 C89.2,444.5 93.4,446.0 97.6,447.3 C101.8,448.6 106.5,449.8 110.2,450.8 C113.9,451.8 116.5,452.4 120.0,453.3 C123.5,454.2 127.5,455.1 131.2,456.0 C134.9,456.9 138.4,458.0 142.4,458.8 C146.4,459.6 150.8,460.2 155.0,460.9 C159.2,461.6 163.4,462.3 167.6,463.0 C171.8,463.7 176.0,464.5 180.2,465.1 C184.4,465.7 189.6,466.1 192.9,466.5 C196.2,466.9 197.2,467.2 200.0,467.5 C202.8,467.8 205.9,468.0 210.0,468.5 C214.1,469.0 218.7,469.8 224.3,470.4 C229.9,471.0 237.1,471.8 243.5,472.4 C249.9,472.9 256.4,473.2 262.8,473.7 C269.2,474.1 275.6,474.7 282.0,475.1 C288.4,475.5 295.1,475.9 301.3,476.2 C307.5,476.5 313.1,476.8 319.3,477.2 C325.5,477.6 332.1,478.1 338.5,478.5 C344.9,478.9 351.4,479.2 357.8,479.5 C364.2,479.8 370.1,480.1 377.1,480.3 C384.1,480.5 395.9,480.7 399.6,480.8" fill="none" stroke="#00a000" stroke-width="2.4"/>
<path d="M50.2,351.0 C50.2,351.7 50.3,353.6 50.5,355.0 C50.7,356.4 50.6,357.8 51.2,359.5 C51.8,361.2 52.9,362.6 54.3,365.3 C55.7,368.0 57.9,372.1 59.8,375.5 C61.7,378.9 63.5,382.3 65.5,386.0 C67.5,389.7 70.0,394.8 71.8,397.5 C73.6,400.2 74.6,400.4 76.5,402.2 C78.4,404.0 80.0,405.4 83.0,408.4 C86.0,411.4 91.0,416.8 94.8,420.0 C98.6,423.2 102.7,425.5 106.0,427.7 C109.3,429.9 112.1,431.7 114.4,433.3 C116.7,434.9 117.2,435.6 120.0,437.2 C122.8,438.8 127.5,441.0 131.2,442.7 C134.9,444.4 138.4,446.0 142.4,447.6 C146.4,449.2 150.8,451.0 155.0,452.5 C159.2,454.0 163.4,455.4 167.6,456.7 C171.8,458.0 176.0,459.0 180.2,460.2 C184.4,461.4 189.6,462.8 192.9,463.7 C196.2,464.6 194.8,464.1 200.0,465.5 C205.2,466.9 217.1,469.9 224.3,471.8 C231.6,473.7 237.1,475.0 243.5,476.6 C249.9,478.2 256.4,479.9 262.8,481.4 C269.2,482.8 275.6,484.1 282.0,485.3 C288.4,486.5 295.1,487.4 301.3,488.5 C307.5,489.6 313.1,490.8 319.3,492.0 C325.5,493.2 332.1,494.4 338.5,495.5 C344.9,496.6 351.4,497.5 357.8,498.4 C364.2,499.3 371.6,500.1 377.1,500.7 C382.6,501.3 386.9,501.8 390.6,502.2 C394.4,502.6 398.1,503.0 399.6,503.2" fill="none" stroke="#996633" stroke-width="2.4"/>
<path d="M61.1,285.3 C61.8,287.1 63.9,292.0 65.5,295.8 C67.1,299.6 68.9,304.5 70.8,308.0 C72.7,311.5 74.9,313.9 76.9,316.8 C78.9,319.7 80.8,322.3 83.0,325.5 C85.2,328.7 88.0,333.3 90.0,336.0 C92.0,338.7 92.9,339.6 95.0,341.7 C97.1,343.8 100.0,346.1 102.4,348.5 C104.9,350.9 107.2,353.4 109.7,355.8 C112.2,358.2 114.8,361.1 117.1,363.2 C119.3,365.2 120.8,366.4 123.2,368.1 C125.7,369.8 128.7,371.7 131.8,373.6 C134.9,375.5 138.3,377.6 141.6,379.7 C144.9,381.8 148.6,384.1 151.4,385.9 C154.2,387.6 156.4,389.1 158.7,390.2 C161.0,391.3 161.8,391.1 165.0,392.6 C168.2,394.1 172.9,397.0 178.0,399.1 C183.1,401.2 189.4,403.4 195.5,405.5 C201.6,407.6 208.0,409.3 214.3,411.4 C220.6,413.5 227.1,416.0 233.5,418.1 C239.9,420.2 246.4,422.1 252.8,423.9 C259.2,425.7 265.0,427.0 272.0,428.7 C279.0,430.4 287.9,432.2 295.0,434.1 C302.1,436.0 307.9,438.5 314.3,440.3 C320.7,442.1 327.1,443.6 333.5,445.1 C339.9,446.6 346.4,448.0 352.8,449.3 C359.2,450.6 366.4,451.6 372.0,452.8 C377.6,454.0 382.1,455.4 386.7,456.4 C391.3,457.4 397.5,458.3 399.6,458.7" fill="none" stroke="#996633" stroke-width="2.4"/>
</g>
<g fill="none"><path d="M50.0,286.5 H400.05" stroke="#a2a2a2" stroke-width="1"/><path d="M399.5,286.0 V503.0" stroke="#a2a2a2" stroke-width="1"/><path d="M50.9,286.0 V503.0" stroke="#949494" stroke-width="1.5"/><path d="M50.2,502.5 H400.05" stroke="#6c6c6c" stroke-width="1.1"/></g><g stroke="#4a4a4a" stroke-width="0.85" fill="none"><path d="M51.10,502.5 v-3.4"/><path d="M68.54,502.5 v-2.2"/><path d="M85.98,502.5 v-3.4"/><path d="M103.42,502.5 v-2.2"/><path d="M120.86,502.5 v-3.4"/><path d="M138.30,502.5 v-2.2"/><path d="M155.74,502.5 v-3.4"/><path d="M173.18,502.5 v-2.2"/><path d="M190.62,502.5 v-3.4"/><path d="M208.06,502.5 v-2.2"/><path d="M225.50,502.5 v-3.4"/><path d="M242.94,502.5 v-2.2"/><path d="M260.38,502.5 v-3.4"/><path d="M277.82,502.5 v-2.2"/><path d="M295.26,502.5 v-3.4"/><path d="M312.70,502.5 v-2.2"/><path d="M330.14,502.5 v-3.4"/><path d="M347.58,502.5 v-2.2"/><path d="M365.02,502.5 v-3.4"/><path d="M382.46,502.5 v-2.2"/><path d="M399.90,502.5 v-3.4"/><path d="M50.5,502.50 h4"/><path d="M50.5,440.35 h4"/><path d="M50.5,378.20 h4"/><path d="M50.5,316.05 h4"/></g>
<g font-family="Liberation Serif, serif" font-size="12.2" fill="#000" opacity="0.99">
<text x="88.5" y="241.7" text-anchor="middle">6</text>
<text x="86.0" y="514.4" text-anchor="middle">6</text>
<text x="157.7" y="241.7" text-anchor="middle">8</text>
<text x="155.7" y="514.4" text-anchor="middle">8</text>
<text x="226.9" y="241.7" text-anchor="middle">10</text>
<text x="225.5" y="514.4" text-anchor="middle">10</text>
<text x="296.1" y="241.7" text-anchor="middle">12</text>
<text x="295.3" y="514.4" text-anchor="middle">12</text>
<text x="365.3" y="241.7" text-anchor="middle">14</text>
<text x="365.0" y="514.4" text-anchor="middle">14</text>
<text x="50.0" y="61.3" text-anchor="end">10<tspan font-size="8.2" dy="-4.6">−40</tspan></text>
<text x="50.0" y="147.7" text-anchor="end">10<tspan font-size="8.2" dy="-4.6">−41</tspan></text>
<text x="50.0" y="234.1" text-anchor="end">10<tspan font-size="8.2" dy="-4.6">−42</tspan></text>
<text x="47.2" y="320.7" text-anchor="end">10<tspan font-size="8.2" dy="-4.6">−34</tspan></text>
<text x="47.2" y="382.8" text-anchor="end">10<tspan font-size="8.2" dy="-4.6">−35</tspan></text>
<text x="47.2" y="445.0" text-anchor="end">10<tspan font-size="8.2" dy="-4.6">−36</tspan></text>
<text x="47.2" y="507.1" text-anchor="end">10<tspan font-size="8.2" dy="-4.6">−37</tspan></text>
<text x="227" y="11.4" text-anchor="middle" font-size="10.85">Spin−Independent</text>
<text x="225.6" y="283" text-anchor="middle" font-size="10.85">Spin−Dependent (<tspan font-style="italic">a</tspan><tspan font-style="italic" font-size="8" dy="2.4">p</tspan><tspan dy="-2.4">=</tspan><tspan font-style="italic">a</tspan><tspan font-style="italic" font-size="8" dy="2.4">n</tspan><tspan dy="-2.4">)</tspan></text>
<text x="226.7" y="264.0" text-anchor="middle" font-size="12.2"><tspan font-style="italic">m</tspan><tspan font-size="8.4" dy="2.2">DM</tspan><tspan dy="-2.2"> [GeV/</tspan><tspan font-style="italic">c</tspan><tspan font-size="8.4" dy="-4.6">2</tspan><tspan dy="4.6">]</tspan></text>
<text x="225.4" y="535.8" text-anchor="middle" font-size="12.2"><tspan font-style="italic">m</tspan><tspan font-size="8.4" dy="2.2">DM</tspan><tspan dy="-2.2"> [GeV/</tspan><tspan font-style="italic">c</tspan><tspan font-size="8.4" dy="-4.6">2</tspan><tspan dy="4.6">]</tspan></text>
<g transform="translate(12,148.9) rotate(-90)" font-size="12.3"><text x="-0.3" y="0" font-style="italic" font-size="15">σ</text><text x="8.7" y="1.2" font-style="italic" font-size="8.2">p</text><text x="12.6" y="-4.8" font-size="8.2">SI</text><text x="24.7" y="0">[cm<tspan font-size="8.2" dy="-4.8">2</tspan><tspan dy="4.8">]</tspan></text></g>
<g transform="translate(12,419.5) rotate(-90)" font-size="12.3"><text x="-0.3" y="0" font-style="italic" font-size="15">σ</text><text x="8.8" y="-4.8" font-size="8.2">SD</text><text x="22.7" y="0">[cm<tspan font-size="8.2" dy="-4.8">2</tspan><tspan dy="4.8">]</tspan></text></g>
</g>
<rect x="410.6" y="141.05" width="158.0" height="259.1" rx="7" ry="7" fill="none" stroke="#1e1e1e" stroke-width="1.75"/>
<g font-family="Liberation Serif, serif" font-size="12.95" fill="#000" opacity="0.99">
<rect x="414.8" y="149.8" width="17.2" height="8.7" fill="#80d4d4"/>
<text x="440.8" y="157.8">CoGeNT (90%,99%)</text>
<rect x="414.8" y="169.1" width="17.2" height="8.7" fill="#d4d480"/>
<text x="440.8" y="176.3">CDMS Si (68%,90%)</text>
<rect x="414.8" y="188.4" width="17.2" height="8.7" fill="#ffbf80"/>
<text x="440.8" y="195.5">DAMA (90%,99%)</text>
<path d="M415.9,211.7 H430.1" stroke="#800080" stroke-width="2.2" fill="none"/>
<text x="440.8" y="214.5">CDMS Ge L−E</text>
<path d="M415.9,231.0 H430.1" stroke="#ff0000" stroke-width="2.2" fill="none" stroke-dasharray="6,2.2"/>
<text x="440.8" y="233.8">XENON10 (S2)</text>
<path d="M415.9,250.3 H430.1" stroke="#ff9090" stroke-width="2.2" fill="none" stroke-dasharray="6,2.2"/>
<text x="440.8" y="252.9">XENON10 (S2), alt Q<tspan font-size="9.4" dy="2.7">y</tspan></text>
<path d="M415.9,270.1 H430.1" stroke="#0000ff" stroke-width="2.2" fill="none" stroke-dasharray="3,1.9"/>
<text x="440.8" y="273.1">XENON100</text>
<path d="M415.9,289.4 H430.1" stroke="#8c8cff" stroke-width="2.2" fill="none" stroke-dasharray="3,1.9"/>
<text x="440.8" y="292.8">XENON100, alt L<tspan font-size="9.4" dy="2.7">eff</tspan></text>
<path d="M415.9,308.7 H430.1" stroke="#000000" stroke-width="2.2" fill="none" stroke-dasharray="3.4,1.6,6,20"/>
<text x="440.8" y="311.6">LUX</text>
<path d="M415.9,328.0 H430.1" stroke="#4d4d4d" stroke-width="2.2" fill="none" stroke-dasharray="3.4,1.6,6,20"/>
<text x="440.8" y="330.9">LUX, alt L<tspan font-size="9.4" dy="2.7">eff</tspan></text>
<path d="M415.9,346.7 H430.1" stroke="#00a000" stroke-width="2.2" fill="none"/>
<text x="440.8" y="350.2">PICASSO</text>
<path d="M415.9,366.0 H430.1" stroke="#996633" stroke-width="2.2" fill="none"/>
<text x="440.8" y="368.6">COUPP (<tspan font-style="italic">η</tspan>,<tspan font-style="italic">α</tspan>)</text>
<path d="M415.9,385.3 H430.1" stroke="#808080" stroke-width="2.2" fill="none"/>
<text x="440.8" y="388.3">CDMSlite</text>
</g>
</svg>
</div>
</body></html>
